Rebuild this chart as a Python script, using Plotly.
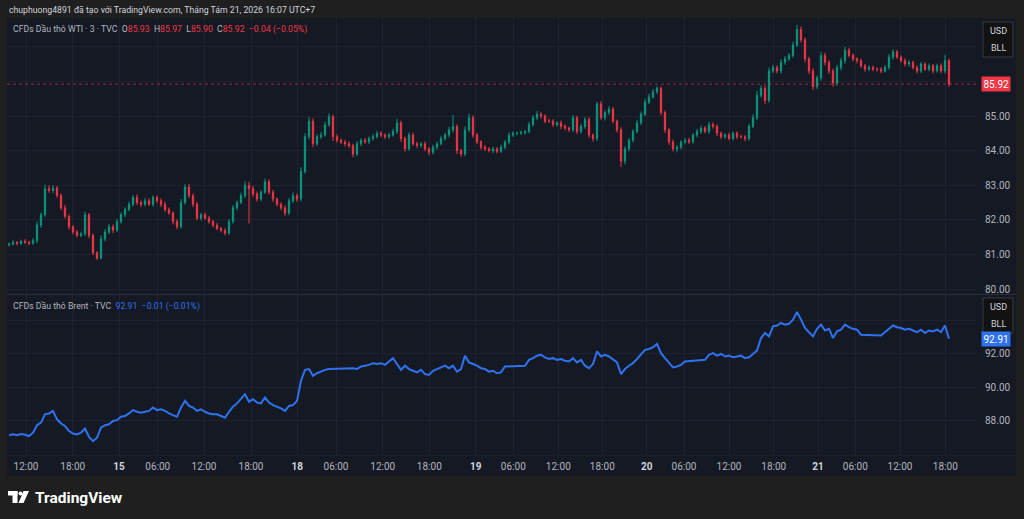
import plotly.graph_objects as go

# WTI 3m chart resampled to ~30 min bars
wti_close = [
    81.30, 81.35, 81.32, 81.38, 81.35, 81.33, 81.40, 81.85, 82.15, 82.90,
    82.85, 82.92, 82.70, 82.35, 82.10, 81.80, 81.65, 81.55, 81.60, 82.15,
    81.55, 81.05, 80.90, 81.45, 81.65, 81.80, 81.70, 81.95, 82.15, 82.30,
    82.45, 82.65, 82.50, 82.45, 82.55, 82.45, 82.65, 82.55, 82.45, 82.30,
    82.20, 81.95, 81.80, 82.50, 82.95, 82.70, 82.45, 82.05, 82.15, 82.05,
    81.95, 81.85, 81.75, 81.70, 81.62, 81.95, 82.35, 82.50, 82.70, 83.00,
    82.90, 82.75, 82.60, 82.80, 83.10, 82.80, 82.60, 82.45, 82.35, 82.20,
    82.55, 82.70, 82.60, 83.40, 84.40, 84.85, 84.20, 84.40, 84.45, 84.75,
    84.98, 84.40, 84.30, 84.25, 84.20, 84.15, 83.90, 84.20, 84.30, 84.25,
    84.35, 84.40, 84.50, 84.45, 84.40, 84.45, 84.55, 84.80, 84.35, 84.05,
    84.45, 84.20, 84.15, 84.20, 84.05, 83.95, 84.10, 84.20, 84.35, 84.45,
    84.60, 84.70, 84.00, 83.90, 84.60, 84.95, 84.45, 84.25, 84.10, 84.05,
    84.00, 84.05, 83.98, 84.10, 84.25, 84.45, 84.50, 84.50, 84.52, 84.55,
    84.75, 84.95, 85.05, 85.00, 84.85, 84.85, 84.75, 84.80, 84.70, 84.65,
    84.60, 84.95, 84.55, 84.70, 84.90, 84.45, 84.35, 85.35, 84.95, 85.10,
    85.20, 84.85, 84.60, 83.70, 84.05, 84.30, 84.55, 84.80, 85.05, 85.40,
    85.55, 85.70, 85.80, 85.10, 84.60, 84.25, 84.05, 84.10, 84.25, 84.30,
    84.25, 84.45, 84.55, 84.65, 84.55, 84.75, 84.70, 84.50, 84.40, 84.45,
    84.35, 84.50, 84.40, 84.40, 84.35, 84.70, 84.95, 85.60, 85.80, 85.45,
    86.30, 86.40, 86.30, 86.55, 86.65, 86.75, 87.05, 87.50, 87.20, 86.65,
    86.30, 85.85, 86.10, 86.75, 86.55, 86.30, 85.95, 86.40, 86.60, 86.90,
    86.75, 86.65, 86.60, 86.45, 86.35, 86.40, 86.35, 86.35, 86.30, 86.40,
    86.70, 86.85, 86.70, 86.60, 86.50, 86.55, 86.40, 86.30, 86.50, 86.35,
    86.45, 86.30, 86.45, 86.30, 86.60, 85.92,
]
wti_first_open = 81.28

# upper / lower wick lengths for each bar
wti_up = [
    0.05, 0.06, 0.04, 0.05, 0.06, 0.05, 0.08, 0.10, 0.07, 0.12,
    0.10, 0.08, 0.06, 0.07, 0.08, 0.06, 0.05, 0.07, 0.06, 0.08,
    0.05, 0.06, 0.05, 0.10, 0.08, 0.09, 0.07, 0.08, 0.07, 0.06,
    0.08, 0.07, 0.09, 0.06, 0.08, 0.07, 0.06, 0.05, 0.07, 0.08,
    0.06, 0.05, 0.07, 0.10, 0.08, 0.09, 0.06, 0.07, 0.05, 0.06,
    0.07, 0.05, 0.06, 0.05, 0.06, 0.07, 0.08, 0.06, 0.09, 0.12,
    0.10, 0.08, 0.07, 0.06, 0.10, 0.07, 0.06, 0.05, 0.06, 0.07,
    0.08, 0.09, 0.07, 0.12, 0.10, 0.12, 0.08, 0.07, 0.09, 0.08,
    0.10, 0.06, 0.07, 0.05, 0.06, 0.07, 0.05, 0.08, 0.06, 0.07,
    0.06, 0.08, 0.07, 0.06, 0.05, 0.07, 0.08, 0.12, 0.07, 0.06,
    0.08, 0.07, 0.06, 0.05, 0.06, 0.05, 0.07, 0.06, 0.08, 0.07,
    0.09, 0.33, 0.06, 0.05, 0.10, 0.12, 0.07, 0.06, 0.05, 0.06,
    0.05, 0.06, 0.05, 0.07, 0.06, 0.08, 0.06, 0.05, 0.06, 0.05,
    0.08, 0.07, 0.09, 0.06, 0.05, 0.07, 0.06, 0.05, 0.07, 0.06,
    0.05, 0.07, 0.06, 0.08, 0.07, 0.06, 0.05, 0.06, 0.08, 0.07,
    0.09, 0.06, 0.05, 0.07, 0.08, 0.06, 0.07, 0.09, 0.08, 0.10,
    0.09, 0.08, 0.06, 0.05, 0.06, 0.05, 0.07, 0.06, 0.05, 0.06,
    0.07, 0.06, 0.08, 0.07, 0.06, 0.09, 0.07, 0.06, 0.05, 0.06,
    0.07, 0.05, 0.06, 0.06, 0.05, 0.08, 0.10, 0.12, 0.09, 0.08,
    0.10, 0.08, 0.07, 0.09, 0.08, 0.07, 0.10, 0.13, 0.09, 0.07,
    0.06, 0.08, 0.07, 0.10, 0.08, 0.06, 0.07, 0.08, 0.09, 0.10,
    0.07, 0.06, 0.05, 0.06, 0.05, 0.07, 0.06, 0.05, 0.06, 0.07,
    0.09, 0.08, 0.06, 0.05, 0.07, 0.06, 0.05, 0.07, 0.06, 0.05,
    0.07, 0.05, 0.06, 0.07, 0.16, 0.05,
]
wti_dn = [
    0.05, 0.04, 0.06, 0.05, 0.04, 0.06, 0.05, 0.07, 0.08, 0.06,
    0.07, 0.08, 0.06, 0.07, 0.06, 0.08, 0.07, 0.06, 0.05, 0.07,
    0.08, 0.07, 0.06, 0.05, 0.07, 0.06, 0.08, 0.05, 0.06, 0.07,
    0.05, 0.06, 0.07, 0.08, 0.06, 0.05, 0.07, 0.06, 0.08, 0.07,
    0.06, 0.08, 0.07, 0.05, 0.06, 0.07, 0.08, 0.06, 0.07, 0.05,
    0.06, 0.07, 0.05, 0.06, 0.07, 0.05, 0.06, 0.07, 0.05, 0.06,
    1.00, 0.08, 0.07, 0.06, 0.05, 0.07, 0.08, 0.06, 0.07, 0.08,
    0.06, 0.07, 0.08, 0.06, 0.07, 0.08, 0.10, 0.07, 0.06, 0.05,
    0.06, 0.12, 0.07, 0.06, 0.08, 0.07, 0.09, 0.06, 0.07, 0.05,
    0.06, 0.07, 0.05, 0.06, 0.07, 0.06, 0.05, 0.07, 0.10, 0.08,
    0.06, 0.07, 0.08, 0.06, 0.07, 0.08, 0.06, 0.07, 0.05, 0.06,
    0.07, 0.08, 0.10, 0.08, 0.06, 0.07, 0.08, 0.06, 0.07, 0.06,
    0.05, 0.07, 0.06, 0.05, 0.06, 0.07, 0.05, 0.06, 0.05, 0.06,
    0.05, 0.06, 0.07, 0.08, 0.06, 0.05, 0.07, 0.06, 0.08, 0.07,
    0.06, 0.07, 0.08, 0.06, 0.07, 0.08, 0.09, 0.07, 0.06, 0.08,
    0.07, 0.06, 0.08, 0.17, 0.10, 0.07, 0.06, 0.05, 0.06, 0.05,
    0.06, 0.05, 0.07, 0.08, 0.09, 0.08, 0.07, 0.10, 0.06, 0.07,
    0.06, 0.05, 0.07, 0.06, 0.05, 0.07, 0.06, 0.08, 0.07, 0.06,
    0.05, 0.06, 0.07, 0.05, 0.08, 0.06, 0.05, 0.07, 0.08, 0.10,
    0.07, 0.06, 0.07, 0.08, 0.07, 0.06, 0.07, 0.06, 0.08, 0.10,
    0.09, 0.10, 0.07, 0.08, 0.09, 0.08, 0.10, 0.07, 0.08, 0.09,
    0.06, 0.07, 0.08, 0.06, 0.07, 0.05, 0.06, 0.07, 0.06, 0.05,
    0.06, 0.07, 0.05, 0.06, 0.07, 0.08, 0.06, 0.07, 0.06, 0.05,
    0.06, 0.07, 0.05, 0.06, 0.07, 0.08,
]

# Brent line, same bars (None = no Brent quote, line bridges the gap)
brent = [
    87.15, 87.20, 87.15, 87.22, 87.18, 87.10, 87.30, 87.75, 87.90, 88.40,
    88.45, 88.60, 88.10, 87.85, 87.70, 87.40, 87.25, 87.20, 87.30, 87.55,
    87.05, 86.80, 87.00, 87.60, 87.75, 87.80, 88.00, 88.05, 88.25, 88.30,
    88.45, 88.65, 88.55, 88.50, 88.55, 88.60, 88.80, 88.65, 88.70, 88.60,
    88.45, 88.35, 88.25, 88.80, 89.20, 88.90, 88.80, 88.60, 88.70, 88.55,
    88.45, 88.40, 88.40, 88.30, 88.20, 88.55, 88.85, 89.05, 89.30, 89.60,
    89.15, 89.30, 89.10, 89.05, 89.40, 89.10, 88.95, 88.85, 88.75, 88.60,
    88.90, 88.95, 89.20, 90.40, 91.05, 91.10, 90.70, 90.85, 90.95, 91.05,
    91.10, None, None, None, None, None, 91.15, 91.10, 91.25, 91.30,
    91.35, 91.45, 91.40, 91.45, 91.35, 91.55, 91.75, 91.40, 91.05, 91.30,
    91.10, 91.00, 90.90, 91.05, 90.80, 90.75, 91.00, 91.10, 91.20, 91.30,
    91.15, 91.30, 90.95, 91.10, 91.90, 91.50, 91.40, 91.30, 91.15, 91.10,
    90.95, 91.00, 90.85, 90.90, 91.25, None, None, None, None, 91.30,
    91.65, 91.75, 91.90, 91.95, 91.80, 91.70, 91.75, 91.65, 91.70, 91.60,
    91.55, 91.75, 91.50, 91.65, 91.30, 91.15, 91.40, 92.15, 91.85, 91.95,
    91.85, 91.70, 91.50, 90.80, 91.10, 91.30, 91.45, 91.70, 91.95, 92.25,
    92.30, 92.40, 92.60, 92.05, 91.75, 91.45, 91.20, 91.25, 91.35, 91.55,
    None, None, None, None, 91.65, 91.95, 92.05, 91.90, 92.00, 91.85,
    91.90, 91.80, 91.85, 91.90, 91.75, 91.80, 92.00, 92.20, 92.95, 93.25,
    93.05, 93.65, 93.70, 93.85, 93.75, 93.80, 94.05, 94.50, 94.05, 93.55,
    93.30, 93.05, 93.50, 93.75, 93.40, 93.50, 92.95, 93.35, 93.45, 93.75,
    93.60, 93.50, 93.45, 93.15, None, None, None, None, 93.10, 93.30,
    93.55, 93.70, 93.60, 93.55, 93.45, 93.50, 93.40, 93.30, 93.45, 93.25,
    93.40, 93.35, 93.45, 93.30, 93.70, 92.91,
]

time_labels = ["12:00", "18:00", "15", "06:00", "12:00", "18:00", "18", "06:00",
               "12:00", "18:00", "19", "06:00", "12:00", "18:00", "20", "06:00",
               "12:00", "18:00", "21", "06:00", "12:00", "18:00"]
time_pos = [4.25, 15.93, 27.5, 37.18, 48.75, 60.5, 72.08, 81.75, 93.43, 105.08,
            116.68, 126.08, 137.33, 148.33, 159.43, 168.75, 180.0, 191.18,
            202.25, 211.58, 222.75, 234.08]

wti_ticks = [80, 81, 82, 83, 84, 85, 86, 87]
brent_ticks = [88, 90, 92, 94]

W, H = 1024, 519
BG = "#1f1f1f"
PANEL = "#151924"
GRID = "#1f2331"
TXT = "#b2b5be"
UP = "#089981"
DOWN = "#f23645"
BLUE = "#2e72f0"
FONT = "Roboto, 'Noto Sans', sans-serif"


def fx(p):
    return p / W


def fy(p):
    return 1 - p / H


idx = list(range(len(wti_close)))
wti_open = [wti_first_open] + wti_close[:-1]
wti_high = [max(o, c) + u for o, c, u in zip(wti_open, wti_close, wti_up)]
wti_low = [min(o, c) - d for o, c, d in zip(wti_open, wti_close, wti_dn)]

fig = go.Figure()

fig.add_trace(go.Candlestick(
    x=idx, open=wti_open, high=wti_high, low=wti_low, close=wti_close,
    increasing=dict(line=dict(color=UP, width=1), fillcolor=UP),
    decreasing=dict(line=dict(color=DOWN, width=1), fillcolor=DOWN),
    whiskerwidth=0,
    xaxis="x", yaxis="y", showlegend=False,
))

fig.add_trace(go.Scatter(
    x=idx, y=brent, mode="lines", connectgaps=True,
    line=dict(color=BLUE, width=2),
    xaxis="x2", yaxis="y2", showlegend=False,
))

x_dom = [fx(7), fx(976)]
x_range = [-0.5, 241.75]

fig.update_layout(
    width=W, height=H,
    margin=dict(l=0, r=0, t=0, b=0),
    paper_bgcolor=BG,
    plot_bgcolor=PANEL,
    boxgap=0.55,
    font=dict(family=FONT, color=TXT, size=10),
    xaxis=dict(
        domain=x_dom, range=x_range, anchor="y",
        tickvals=time_pos, showticklabels=False, ticks="",
        showgrid=True, gridcolor=GRID, zeroline=False,
        rangeslider=dict(visible=False),
    ),
    xaxis2=dict(
        domain=x_dom, range=x_range, anchor="y2",
        tickvals=time_pos,
        ticktext=["<b><span style='color:#d1d4dc'>%s</span></b>" % t if ":" not in t else t
                  for t in time_labels],
        ticks="", ticklabelstandoff=4,
        tickfont=dict(size=10, color=TXT),
        showgrid=True, gridcolor=GRID, zeroline=False,
    ),
    yaxis=dict(
        domain=[fy(294), fy(18)], range=[79.86, 87.83], anchor="x",
        side="right", tickvals=wti_ticks,
        ticktext=["%.2f" % v if v <= 85 else "" for v in wti_ticks],
        ticks="", ticklabelstandoff=8,
        tickfont=dict(size=10, color=TXT),
        showgrid=True, gridcolor=GRID, zeroline=False,
    ),
    yaxis2=dict(
        domain=[fy(455), fy(295)], range=[85.97, 95.52], anchor="x2",
        side="right", tickvals=brent_ticks,
        ticktext=["%.2f" % v if v <= 92 else "" for v in brent_ticks],
        ticks="", ticklabelstandoff=8,
        tickfont=dict(size=10, color=TXT),
        showgrid=True, gridcolor=GRID, zeroline=False,
    ),
)

shapes = [
    # chart panel
    dict(type="rect", xref="paper", yref="paper", x0=fx(7), x1=fx(1016),
         y0=fy(476), y1=fy(18), fillcolor=PANEL, line=dict(width=0), layer="below"),
    # pane separator and time strip border
    dict(type="line", xref="paper", yref="paper", x0=fx(7), x1=fx(1016),
         y0=fy(294.5), y1=fy(294.5), line=dict(color="#2a2e39", width=1)),
    dict(type="line", xref="paper", yref="paper", x0=fx(7), x1=fx(1016),
         y0=fy(455.5), y1=fy(455.5), line=dict(color="#1c202b", width=1)),
    # last price line
    dict(type="line", xref="paper", yref="y", x0=x_dom[0], x1=x_dom[1],
         y0=85.92, y1=85.92, line=dict(color=DOWN, width=1, dash="dot"), opacity=0.6),
    # USD / BLL boxes
    dict(type="rect", xref="paper", yref="paper", x0=fx(983), x1=fx(1013),
         y0=fy(57), y1=fy(22), fillcolor="#121212", line=dict(color="#363a45", width=1)),
    dict(type="rect", xref="paper", yref="paper", x0=fx(983), x1=fx(1013),
         y0=fy(333), y1=fy(298), fillcolor="#121212", line=dict(color="#363a45", width=1)),
    # TradingView logo mark
    dict(type="rect", xref="paper", yref="paper", x0=fx(8), x1=fx(17.5),
         y0=fy(495.5), y1=fy(491), fillcolor="#ffffff", line=dict(width=0)),
    dict(type="rect", xref="paper", yref="paper", x0=fx(12.5), x1=fx(17.5),
         y0=fy(503), y1=fy(491), fillcolor="#ffffff", line=dict(width=0)),
    dict(type="circle", xref="paper", yref="paper", x0=fx(18.5), x1=fx(22.5),
         y0=fy(495.5), y1=fy(491.5), fillcolor="#ffffff", line=dict(width=0)),
    dict(type="path", xref="paper", yref="paper",
         path="M %f %f L %f %f L %f %f L %f %f Z" % (fx(23.5), fy(491), fx(29), fy(491),
                                                     fx(23.5), fy(503), fx(18.5), fy(503)),
         fillcolor="#ffffff", line=dict(width=0)),
]
fig.update_layout(shapes=shapes)

red = "<span style='color:%s'>%%s</span>" % DOWN
blue = "<span style='color:%s'>%%s</span>" % BLUE
annotations = [
    dict(text="chuphuong4891 đã tạo với TradingView.com, Tháng Tám 21, 2026 16:07 UTC+7",
         x=fx(7), y=fy(9.5), font=dict(size=8.7, color="#d1d4dc")),
    dict(text="CFDs Dầu thô WTI · 3 · TVC  O" + red % "85.93" + "  H" + red % "85.97"
              + "  L" + red % "85.90" + "  C" + red % "85.92" + "  " + red % "−0.04 (−0.05%)",
         x=fx(11), y=fy(29.5), font=dict(size=8.7, color=TXT)),
    dict(text="CFDs Dầu thô Brent · TVC  " + blue % "92.91  −0.01 (−0.01%)",
         x=fx(11), y=fy(306), font=dict(size=8.7, color=TXT)),
    dict(text="USD", x=fx(998), y=fy(31), xanchor="center", font=dict(size=9, color="#d1d4dc")),
    dict(text="BLL", x=fx(998), y=fy(48), xanchor="center", font=dict(size=9, color="#d1d4dc")),
    dict(text="USD", x=fx(998), y=fy(307), xanchor="center", font=dict(size=9, color="#d1d4dc")),
    dict(text="BLL", x=fx(998), y=fy(324), xanchor="center", font=dict(size=9, color="#d1d4dc")),
    dict(text="<b>TradingView</b>", x=fx(33), y=fy(497.5), font=dict(size=15.5, color="#ffffff")),
]
for a in annotations:
    a.setdefault("xref", "paper")
    a.setdefault("yref", "paper")
    a.setdefault("xanchor", "left")
    a.setdefault("yanchor", "middle")
    a.setdefault("showarrow", False)
    fig.add_annotation(**a)

# last price labels on the scales
fig.add_annotation(text="85.92", xref="paper", yref="y", x=fx(996), y=85.92,
                   xanchor="center", yanchor="middle", showarrow=False,
                   bgcolor=DOWN, borderpad=1.5, font=dict(size=10, color="#ffffff"))
fig.add_annotation(text="92.91", xref="paper", yref="y2", x=fx(996), y=92.91,
                   xanchor="center", yanchor="middle", showarrow=False,
                   bgcolor=BLUE, borderpad=1.5, font=dict(size=10, color="#ffffff"))

# the page body has a default 8px margin; drop it so the figure fills the window
fig.write_html("out.html", config={"displayModeBar": False},
               post_script="document.body.style.margin='0';"
                           "document.body.style.background='%s';" % BG)
